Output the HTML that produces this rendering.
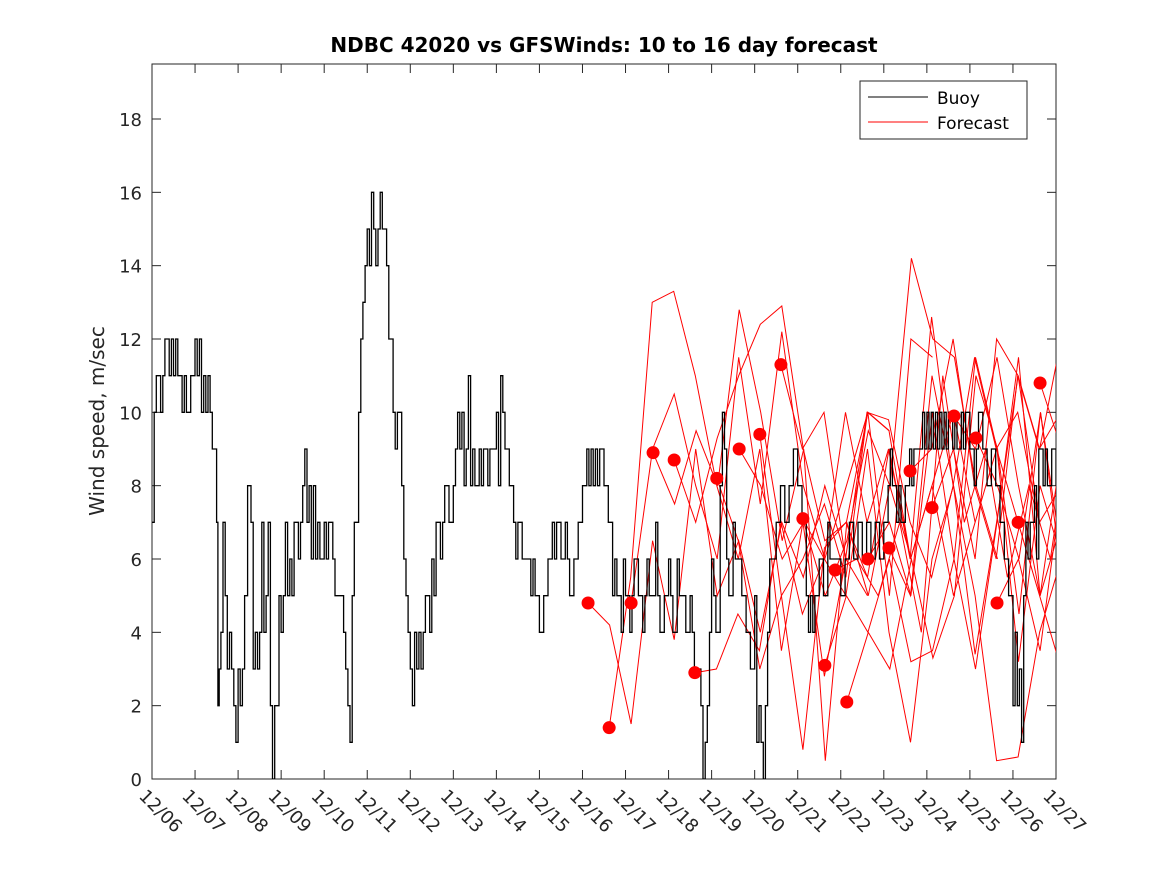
<!DOCTYPE html>
<html><head><meta charset="utf-8"><style>
body{margin:0;background:#fff;font-family:"Liberation Sans","DejaVu Sans",sans-serif}
svg text{font-family:"DejaVu Sans","Liberation Sans",sans-serif}
</style></head><body>
<svg id="chart" width="1167" height="875" xmlns="http://www.w3.org/2000/svg">
<defs><clipPath id="pc"><rect x="152" y="64" width="904" height="715"/></clipPath></defs>
<rect x="0" y="0" width="1167" height="875" fill="#fff"/>
<rect x="152" y="64" width="904" height="715" fill="#fff" stroke="#262626" stroke-width="1"/>
<text x="604" y="52" text-anchor="middle" font-size="20" font-weight="bold" fill="#000">NDBC 42020 vs GFSWinds: 10 to 16 day forecast</text>
<text transform="translate(104,421) rotate(-90)" text-anchor="middle" font-size="20" fill="#262626">Wind speed, m/sec</text>
<g id="axes"></g>
<g id="series" clip-path="url(#pc)"></g>
<g id="dots"></g>
<g>
<rect x="860" y="81" width="167" height="58" fill="#fff" stroke="#262626"/>
<line x1="868" y1="97" x2="928" y2="97" stroke="#000"/>
<text x="937" y="104" font-size="17" fill="#000">Buoy</text>
<line x1="868" y1="122" x2="928" y2="122" stroke="#f00"/>
<text x="937" y="129" font-size="17" fill="#000">Forecast</text>
</g>
</svg>
<script>
const xTickLabels=["12/06","12/07","12/08","12/09","12/10","12/11","12/12","12/13","12/14","12/15","12/16","12/17","12/18","12/19","12/20","12/21","12/22","12/23","12/24","12/25","12/26","12/27"];
const yTicks=[0,2,4,6,8,10,12,14,16,18];
const buoyData=[[0,7],[0.05,10],[0.1,11],[0.2,10],[0.25,11],[0.3,12],[0.4,11],[0.45,12],[0.5,11],[0.55,12],[0.6,11],[0.7,10],[0.75,11],[0.8,10],[0.9,11],[1.0,12],[1.05,11],[1.1,12],[1.15,10],[1.2,11],[1.25,10],[1.3,11],[1.35,10],[1.4,9],[1.5,7],[1.53,2],[1.56,3],[1.6,4],[1.65,7],[1.7,5],[1.75,3],[1.8,4],[1.85,3],[1.9,2],[1.95,1],[2.0,3],[2.05,2],[2.1,3],[2.15,5],[2.22,8],[2.3,7],[2.35,3],[2.4,4],[2.45,3],[2.5,4],[2.55,7],[2.6,4],[2.65,5],[2.7,7],[2.75,2],[2.8,0],[2.85,2],[2.95,5],[3.0,4],[3.05,5],[3.1,7],[3.15,5],[3.2,6],[3.25,5],[3.3,7],[3.4,6],[3.45,7],[3.5,8],[3.55,9],[3.6,7],[3.65,8],[3.7,6],[3.75,8],[3.8,6],[3.85,7],[3.9,6],[4.0,7],[4.05,6],[4.1,7],[4.2,6],[4.25,5],[4.4,5],[4.45,4],[4.5,3],[4.55,2],[4.6,1],[4.65,5],[4.7,7],[4.8,10],[4.85,12],[4.9,13],[4.95,14],[5.0,15],[5.05,14],[5.1,16],[5.15,15],[5.2,14],[5.25,15],[5.3,16],[5.35,15],[5.45,14],[5.5,12],[5.6,10],[5.65,9],[5.7,10],[5.8,8],[5.85,6],[5.9,5],[5.95,4],[6.0,3],[6.05,2],[6.1,4],[6.15,3],[6.2,4],[6.25,3],[6.3,4],[6.35,5],[6.45,4],[6.5,6],[6.55,5],[6.6,7],[6.7,6],[6.75,7],[6.8,8],[6.9,7],[7.0,8],[7.05,9],[7.1,10],[7.15,9],[7.2,10],[7.25,8],[7.3,9],[7.35,11],[7.4,8],[7.45,9],[7.5,8],[7.6,9],[7.65,8],[7.7,9],[7.8,8],[7.85,9],[7.9,9],[8.0,10],[8.05,8],[8.1,11],[8.15,10],[8.2,9],[8.3,8],[8.4,7],[8.45,6],[8.5,7],[8.6,6],[8.7,6],[8.8,5],[8.85,6],[8.9,5],[9.0,4],[9.1,5],[9.2,6],[9.3,7],[9.35,6],[9.4,7],[9.5,6],[9.6,7],[9.65,6],[9.7,5],[9.8,6],[9.9,7],[10.0,8],[10.1,9],[10.15,8],[10.2,9],[10.25,8],[10.3,9],[10.35,8],[10.4,9],[10.5,8],[10.6,7],[10.7,5],[10.75,6],[10.8,5],[10.9,4],[10.95,6],[11.0,5],[11.1,4],[11.15,5],[11.2,6],[11.3,5],[11.4,4],[11.45,5],[11.5,6],[11.55,5],[11.6,5],[11.7,7],[11.75,5],[11.8,4],[11.9,5],[12.0,6],[12.05,5],[12.1,4],[12.2,6],[12.25,5],[12.3,5],[12.4,4],[12.5,5],[12.55,4],[12.6,3],[12.7,3],[12.75,2],[12.8,0],[12.85,1],[12.9,2],[12.95,4],[13.0,6],[13.05,5],[13.1,4],[13.2,8],[13.25,10],[13.3,9],[13.35,6],[13.4,5],[13.5,7],[13.55,6],[13.6,6],[13.7,5],[13.8,4],[13.9,3],[14.0,5],[14.05,1],[14.1,2],[14.15,1],[14.2,0],[14.25,2],[14.3,4],[14.35,6],[14.5,7],[14.6,8],[14.7,7],[14.8,8],[14.9,9],[15.0,8],[15.1,7],[15.2,5],[15.25,4],[15.3,5],[15.35,4],[15.4,5],[15.5,6],[15.6,5],[15.7,7],[15.75,6],[15.8,6],[16.0,5],[16.1,6],[16.2,7],[16.3,6],[16.4,7],[16.5,6],[16.6,7],[16.7,6],[16.8,7],[16.9,6],[17.0,7],[17.1,8],[17.15,9],[17.2,8],[17.3,7],[17.35,8],[17.4,7],[17.5,8],[17.6,9],[17.65,8],[17.7,9],[17.8,9],[17.9,10],[17.95,9],[18.0,10],[18.05,9],[18.1,10],[18.15,9],[18.2,10],[18.25,9],[18.3,10],[18.35,9],[18.4,10],[18.45,9],[18.5,10],[18.6,9],[18.65,10],[18.7,9],[18.8,10],[18.85,9],[18.9,10],[19.0,9],[19.1,8],[19.15,9],[19.2,10],[19.3,9],[19.4,8],[19.5,9],[19.6,8],[19.7,7],[19.8,6],[19.9,5],[20.0,2],[20.05,4],[20.1,2],[20.15,3],[20.2,1],[20.25,5],[20.3,7],[20.35,6],[20.4,7],[20.5,8],[20.55,6],[20.6,9],[20.7,8],[20.75,9],[20.8,8],[20.9,9],[21,8]];
const fcStarts=[10.13,10.62,11.13,11.64,12.13,12.61,13.12,13.64,14.12,14.61,15.12,15.63,15.87,16.14,16.63,17.12,17.61,18.12,18.63,19.14,19.63,20.12,20.63];
const fcVals=[
[4.8,4.2,1.5,6.5,3.8,9,5,6.5,4,7,5.5,8,6],
[1.4,5.5,13,13.3,11,8,6,9,3.5,7,2.8,6,5],
[4.8,9,10.5,8,6,11.5,7.5,12.2,8,6,8,10,9.5],
[8.9,7.5,9.5,8,12.8,10,6.5,9,0.5,7,5,8,6],
[8.7,7,9.3,11,12.4,12.9,9,6.5,7,10,5,12,11.5],
[2.9,3,4.5,3.5,7,4.5,6,10,7,9,6,12.6,8],
[8.2,6.5,3,5,0.8,6.3,7,5.5,9,6,8,10,7],
[9,8,6,7,5,6.5,9.5,8,14.2,12,11.5,8,6],
[9.4,5,6,7.5,5.5,10,9.5,6,8,5,7,9,7],
[11.3,9,10,6,10,9.8,7,5.5,8,11.5,9,10,7],
[7.1,6,5,9,4,1,6,8,3.4,7,11,9,12],
[3.1,5,4,6,3.2,3.5,6,3,7,11.5,5,9,8],
[5.7,6,5,7,4,11,7,9,5.5,8,6,10,9],
[2.1,4,3,6,3.3,5,11,9,4.5,10,6,12.2,8],
[6,7,5,10,6,11.5,9,3.2,8,6,10,7,9],
[6.3,5,11,8,5,0.5,0.6,4,6,9,7,5,8],
[8.4,9,12,8,6,11,9,10,5,8,11,9,10],
[7.4,9,6,12,11,7,8,10,3,6,9,12,13],
[9.9,9,11.5,8,5,7,10,4,9,12,7,9,8],
[9.3,8,6,10,5.5,14.2,13.5,13.4,10,12,9,8,7],
[4.8,6,3.5,8,5,9,6,12,8,10,5,4,3],
[7,5,3,10,11,9,7,13,12.4,6,5,4,3],
[10.8,9,11,12,10,8,6.5,5,3.5,2.5,4,3,3]];
const ns="http://www.w3.org/2000/svg";
const X=d=>152+d*(904/21), Y=v=>779-v*(660/18);
function mk(tag,attrs,parent){const e=document.createElementNS(ns,tag);for(const k in attrs)e.setAttribute(k,attrs[k]);parent.appendChild(e);return e;}
const axes=document.getElementById('axes');
yTicks.forEach(v=>{
  mk('line',{x1:152,x2:161,y1:Y(v),y2:Y(v),stroke:'#262626'},axes);
  mk('line',{x1:1047,x2:1056,y1:Y(v),y2:Y(v),stroke:'#262626'},axes);
  const t=mk('text',{x:142,y:Y(v)+7,'text-anchor':'end','font-size':18,fill:'#262626'},axes);
  
  
  t.textContent=v;
});
xTickLabels.forEach((l,i)=>{
  const x=X(i);
  mk('line',{x1:x,x2:x,y1:779,y2:770,stroke:'#262626'},axes);
  mk('line',{x1:x,x2:x,y1:64,y2:73,stroke:'#262626'},axes);
  const t=mk('text',{transform:`translate(${x-14},${797}) rotate(45)`,'font-size':18,fill:'#262626'},axes);
  
  
  t.textContent=l;
});
const series=document.getElementById('series');
fcStarts.forEach((s,i)=>{
  const pts=fcVals[i].map((v,j)=>X(s+j*0.5).toFixed(1)+','+Y(v).toFixed(1)).join(' ');
  const p=mk('polyline',{points:pts,fill:'none',stroke:'#f00','stroke-width':1},series);
  
  
});
let bp=[];
buoyData.forEach((p,i)=>{if(i>0)bp.push(X(p[0]).toFixed(1)+','+Y(buoyData[i-1][1]).toFixed(1));bp.push(X(p[0]).toFixed(1)+','+Y(p[1]).toFixed(1));});
const bl=mk('polyline',{points:bp.join(' '),fill:'none',stroke:'#000','stroke-width':1.3},series);


const dots=document.getElementById('dots');
fcStarts.forEach((s,i)=>{
  const c=mk('circle',{cx:X(s),cy:Y(fcVals[i][0]),r:6.5,fill:'#f00'},dots);
  
  
});
</script>
</body></html>
